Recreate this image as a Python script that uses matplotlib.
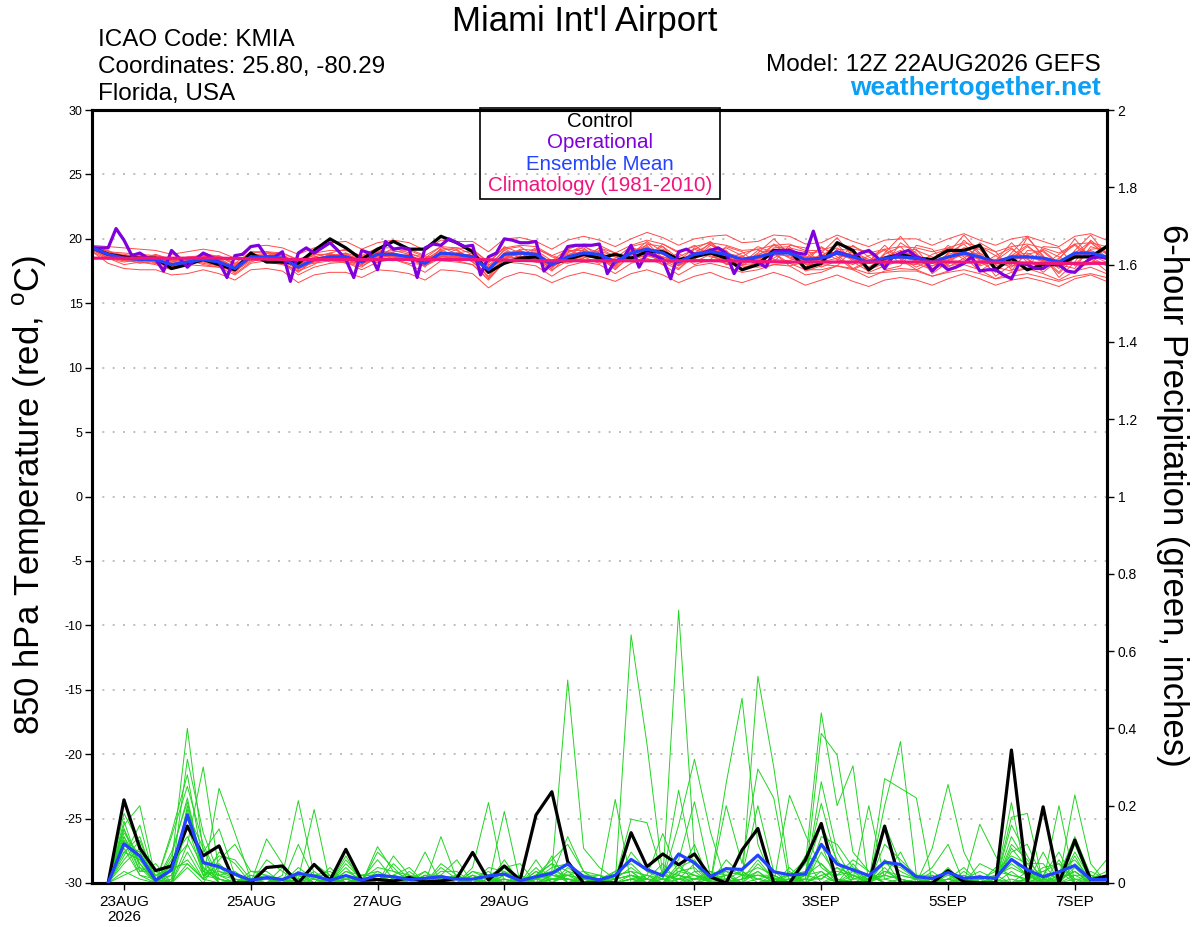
import numpy as np
import matplotlib
matplotlib.use('Agg')
import matplotlib.pyplot as plt
from matplotlib.patches import Rectangle

plt.rcParams['font.family'] = ['Liberation Sans', 'DejaVu Sans']
plt.rcParams['axes.unicode_minus'] = False
plt.rcParams['mathtext.fontset'] = 'custom'
plt.rcParams['mathtext.rm'] = 'Liberation Sans'

# Time axis: hours after 12Z 22AUG2026
temp_hours = np.arange(65) * 6
ops_hours = np.arange(129) * 3
precip_hours = np.arange(1, 65) * 6
clim_hours = np.arange(17) * 24

tick_hours = [12, 60, 108, 156, 228, 276, 324, 372]
tick_labels = ['23AUG\n2026', '25AUG', '27AUG', '29AUG', '1SEP', '3SEP', '5SEP', '7SEP']

# 850 hPa temperature (C)
control_temp = [19.3, 18.8, 18.6, 18.5, 18.5, 17.7, 18.0, 18.4, 18.0, 17.6, 18.9, 18.2, 18.2,
                18.1, 19.1, 20.0, 19.3, 18.4, 19.2, 19.8, 19.2, 19.2, 20.2, 19.7, 19.0, 17.4,
                18.1, 18.5, 18.6, 18.1, 18.4, 18.8, 18.5, 18.8, 18.5, 19.0, 19.0, 18.4, 18.6,
                18.9, 18.5, 17.6, 18.0, 19.1, 19.1, 17.7, 18.1, 19.7, 19.1, 17.6, 18.5, 18.8,
                18.5, 18.4, 19.1, 19.1, 19.5, 17.6, 18.5, 17.6, 18.0, 18.0, 18.6, 18.6, 19.4]

mean_temp = [19.3, 18.8, 18.5, 18.4, 18.4, 18.0, 18.2, 18.4, 18.2, 17.7, 18.6, 18.6, 18.5,
             17.8, 18.4, 18.6, 18.6, 18.2, 18.8, 18.8, 18.6, 18.1, 18.9, 18.8, 18.6, 17.6,
             18.8, 18.9, 18.8, 18.0, 18.6, 18.9, 18.8, 18.2, 18.9, 19.2, 18.9, 18.2, 18.8,
             19.0, 18.8, 18.4, 18.6, 18.9, 18.9, 18.4, 18.5, 18.9, 18.6, 18.2, 18.5, 18.6,
             18.5, 18.2, 18.6, 18.9, 18.6, 18.2, 18.6, 18.6, 18.5, 18.2, 18.9, 18.9, 18.6]

# operational run, 3-hourly
ops_temp = [19.3, 19.3, 19.3, 20.8, 19.9, 18.7, 18.9, 18.5, 18.4, 17.5, 19.1, 18.5, 17.8,
            18.4, 18.9, 18.6, 18.2, 17.0, 18.7, 18.8, 19.4, 19.5, 18.6, 18.6, 19.0, 16.7,
            18.9, 19.3, 18.9, 19.3, 19.7, 19.1, 18.4, 17.0, 19.1, 18.9, 17.6, 19.8, 19.2,
            19.3, 19.2, 17.0, 19.3, 19.6,
            19.5, 20.0, 19.7, 19.4, 19.5, 17.2, 18.6, 18.9, 20.0, 19.9, 19.7, 19.7, 19.8,
            17.5, 18.1, 18.4, 19.4, 19.5, 19.5, 19.5, 19.6, 17.3, 18.3, 18.5, 19.5, 17.8,
            18.9, 18.7, 18.4, 16.9, 19.0, 19.2, 18.8, 18.9, 19.1, 19.3, 18.9, 17.3, 18.4,
            18.4, 18.2, 17.8, 19.0,
            19.1, 19.1, 18.9, 18.8, 20.6, 18.6, 18.6, 19.0, 18.8, 18.6, 18.9, 19.1, 18.6,
            17.7, 18.6, 18.9, 19.1, 18.6, 18.4, 17.5, 18.1, 17.6, 17.8, 18.1, 18.6, 17.5,
            17.6, 17.6, 17.2, 16.9, 18.1, 18.0, 17.7, 17.7, 18.1, 18.0, 17.5, 17.4, 18.0,
            18.5, 18.6, 18.5]

# climatology, daily at 12Z
clim_temp = [18.5, 18.5, 18.5, 18.4, 18.4, 18.4, 18.4, 18.3, 18.3, 18.3, 18.3, 18.2, 18.2,
             18.2, 18.2, 18.1, 18.1]

ens_temp = [
    [19.2, 18.6, 18.3, 18.2, 18.5, 18.1, 18.0, 18.6, 18.4, 17.6, 18.4, 18.9, 18.8,
     17.9, 18.1, 18.3, 18.9, 18.5, 18.6, 19.3, 18.9, 18.4, 18.6, 19.2, 18.2, 17.1,
     18.5, 19.2, 19.1, 18.3, 18.1, 18.5, 19.3, 18.6, 18.4, 19.6, 19.4, 18.0, 18.4,
     19.5, 19.1, 18.0, 18.1, 19.3, 19.4, 18.0, 18.0, 19.2, 19.1, 17.6, 18.1, 19.0,
     19.2, 17.7, 18.0, 19.3, 19.2, 17.8, 17.5, 19.1, 19.0, 18.0, 17.7, 19.4, 19.0],
    [19.4, 19.0, 18.7, 18.5, 18.2, 17.8, 18.4, 18.3, 18.0, 17.9, 18.8, 18.4, 18.3,
     17.6, 18.6, 18.9, 18.4, 18.0, 19.1, 18.6, 18.3, 18.3, 19.2, 18.5, 18.9, 17.9,
     19.1, 18.6, 18.5, 17.7, 19.0, 19.3, 18.4, 17.9, 19.3, 19.0, 18.5, 18.6, 19.2,
     18.6, 18.4, 18.9, 19.2, 18.4, 18.3, 18.9, 19.0, 18.4, 18.0, 18.7, 19.1, 18.1,
     18.0, 18.8, 19.2, 18.4, 18.0, 18.7, 19.3, 18.2, 17.9, 18.8, 19.5, 18.3, 18.1],
    [19.1, 18.9, 18.6, 18.7, 18.6, 18.3, 18.5, 18.1, 17.9, 17.5, 18.3, 18.7, 18.9,
     18.3, 18.7, 18.2, 18.3, 17.9, 18.5, 19.0, 19.1, 18.6, 18.4, 18.3, 18.0, 16.9,
     18.2, 18.7, 19.3, 18.6, 18.2, 18.7, 19.1, 18.6, 18.3, 18.8, 19.4, 18.5, 18.2,
     18.8, 19.3, 18.7, 17.9, 18.5, 19.3, 19.0, 17.8, 18.3, 19.5, 18.6, 17.9, 18.3,
     19.1, 18.6, 17.8, 18.5, 19.4, 18.7, 17.9, 18.1, 19.2, 18.6, 18.0, 18.4, 19.3],
    [19.3, 18.7, 18.4, 18.1, 18.3, 17.9, 17.9, 18.5, 18.5, 17.8, 18.9, 18.5, 18.1,
     17.5, 18.3, 18.8, 18.7, 18.4, 18.2, 18.5, 18.7, 17.8, 19.3, 19.1, 18.4, 17.8,
     18.4, 18.9, 18.4, 17.5, 18.7, 19.4, 18.9, 17.8, 19.0, 19.5, 18.2, 17.6, 18.9,
     19.6, 18.6, 17.9, 18.7, 19.5, 18.8, 17.7, 18.6, 19.6, 18.2, 17.5, 18.8, 19.4,
     18.1, 17.6, 18.9, 19.6, 18.3, 17.4, 18.7, 19.5, 18.4, 17.3, 18.6, 19.7, 18.8],
    [19.5, 18.9, 18.8, 18.6, 18.1, 18.2, 18.6, 18.7, 18.3, 17.4, 18.5, 18.3, 18.6,
     18.0, 18.9, 18.5, 18.1, 18.3, 19.0, 18.4, 18.1, 18.0, 18.6, 18.9, 19.1, 18.2,
     19.3, 18.4, 18.2, 18.3, 19.2, 18.6, 18.1, 18.5, 19.4, 18.7, 18.3, 18.9, 19.5,
     18.7, 18.1, 18.6, 19.4, 18.9, 18.1, 18.5, 19.3, 18.8, 17.7, 18.3, 19.2, 18.5,
     17.8, 18.4, 19.3, 18.9, 17.9, 18.3, 19.2, 18.4, 17.7, 18.5, 19.6, 18.6, 17.9],
    [19.2, 18.5, 18.2, 18.4, 18.8, 18.4, 18.1, 18.2, 17.9, 17.6, 18.7, 18.9, 18.4,
     17.7, 18.2, 18.7, 18.9, 18.1, 18.4, 18.9, 18.6, 18.2, 18.8, 18.3, 18.5, 17.4,
     18.9, 19.1, 18.5, 17.9, 18.4, 18.8, 18.6, 18.2, 18.5, 19.1, 19.2, 18.4, 18.6,
     19.2, 18.9, 18.3, 18.3, 18.7, 19.1, 18.6, 18.2, 18.5, 19.0, 18.4, 18.0, 18.9,
     18.8, 18.1, 18.3, 18.8, 18.9, 18.2, 17.8, 18.8, 19.1, 18.1, 18.0, 19.2, 19.3],
    [19.3, 19.1, 18.5, 18.3, 18.4, 17.7, 18.3, 18.9, 18.6, 18.0, 18.6, 18.6, 18.7,
     18.1, 18.5, 18.4, 18.5, 18.6, 19.2, 18.7, 18.4, 18.5, 19.4, 18.8, 18.2, 17.3,
     18.6, 18.8, 19.0, 18.1, 18.8, 19.0, 18.6, 17.6, 18.8, 19.8, 19.0, 17.9, 18.5,
     19.3, 18.5, 18.2, 18.8, 19.2, 18.5, 18.1, 18.7, 19.3, 18.4, 17.8, 18.6, 19.1,
     18.5, 17.9, 18.5, 19.3, 18.7, 17.6, 18.4, 19.4, 18.6, 17.7, 18.9, 19.8, 18.5],
    [19.0, 18.4, 18.6, 18.5, 18.2, 18.0, 18.1, 18.4, 18.1, 17.3, 18.2, 18.6, 18.2,
     17.4, 18.4, 18.6, 18.2, 17.8, 18.7, 18.9, 18.5, 17.9, 18.7, 18.6, 18.7, 17.7,
     18.7, 18.9, 18.7, 17.8, 18.5, 19.0, 19.0, 18.3, 18.6, 18.9, 18.6, 18.3, 18.9,
     19.0, 18.6, 18.4, 18.5, 18.8, 19.2, 18.3, 18.4, 19.0, 18.7, 18.1, 18.3, 18.7,
     18.6, 18.3, 18.6, 18.7, 18.5, 18.4, 18.5, 18.7, 18.3, 18.2, 18.7, 18.8, 18.4],
    [19.4, 18.8, 18.4, 18.6, 18.5, 18.2, 18.4, 18.5, 18.3, 17.9, 18.7, 18.5, 18.6,
     17.9, 18.3, 18.5, 18.8, 18.3, 18.9, 19.1, 18.8, 18.1, 19.0, 18.7, 18.6, 17.6,
     18.9, 19.0, 18.9, 18.1, 18.6, 18.9, 18.8, 18.1, 19.1, 19.3, 18.9, 18.0, 18.7,
     19.1, 18.9, 18.6, 18.4, 19.0, 19.0, 18.2, 18.3, 18.9, 18.8, 18.4, 18.5, 18.8,
     18.3, 18.1, 18.8, 19.1, 18.5, 18.0, 18.7, 18.9, 18.3, 17.9, 18.8, 19.1, 18.6],
    [19.3, 18.7, 18.5, 18.3, 18.3, 17.9, 18.2, 18.3, 18.2, 17.7, 18.5, 18.7, 18.5,
     17.8, 18.5, 18.7, 18.6, 18.2, 18.8, 18.7, 18.6, 18.2, 18.8, 18.9, 18.7, 17.5,
     18.8, 18.8, 18.7, 18.0, 18.7, 18.9, 18.7, 18.3, 18.9, 19.2, 18.8, 18.3, 18.9,
     18.9, 18.7, 18.5, 18.7, 18.8, 18.7, 18.6, 18.6, 18.8, 18.5, 18.3, 18.6, 18.5,
     18.4, 18.3, 18.5, 18.8, 18.6, 18.3, 18.5, 18.5, 18.6, 18.3, 18.8, 18.7, 18.5],
    [19.0, 18.1, 17.7, 17.6, 17.6, 17.2, 17.3, 17.6, 17.3, 16.8, 17.6, 17.7, 17.5,
     16.6, 17.2, 17.4, 17.4, 17.0, 17.6, 17.5, 17.3, 16.8, 17.6, 17.5, 17.3, 16.2,
     17.0, 17.4, 17.2, 16.6, 17.1, 17.4, 17.1, 16.7, 17.3, 17.6, 17.2, 16.6, 17.1,
     17.4, 16.9, 16.6, 17.0, 17.4, 17.0, 16.4, 16.8, 17.2, 16.7, 16.3, 16.8, 17.0,
     16.8, 16.4, 16.9, 17.3, 16.9, 16.4, 16.8, 17.0, 16.7, 16.3, 16.9, 17.2, 16.7],
    [19.5, 19.4, 19.3, 19.2, 19.1, 18.8, 19.0, 19.2, 19.0, 18.5, 19.4, 19.5, 19.3,
     18.8, 19.3, 19.7, 19.8, 19.2, 19.7, 19.9, 19.7, 19.1, 19.9, 19.8, 19.8, 19.0,
     20.0, 20.1, 19.8, 19.2, 19.9, 20.2, 19.9, 19.4, 20.0, 20.5, 20.1, 19.5, 20.0,
     20.2, 20.3, 19.7, 19.8, 20.3, 20.2, 19.6, 19.7, 20.3, 19.8, 19.4, 19.9, 20.0,
     20.0, 19.5, 20.0, 20.4, 19.9, 19.5, 20.0, 20.2, 19.8, 19.4, 20.2, 20.4, 19.9],
    [19.2, 18.9, 18.7, 18.2, 18.0, 17.6, 18.0, 18.6, 18.7, 18.1, 18.4, 18.2, 18.0,
     17.5, 18.0, 18.9, 19.2, 18.6, 18.4, 18.3, 18.5, 18.4, 19.1, 19.3, 18.8, 18.0,
     18.3, 18.5, 19.2, 18.7, 18.3, 18.5, 19.3, 18.9, 18.2, 18.6, 19.6, 18.9, 18.0,
     18.4, 19.4, 19.0, 18.0, 18.2, 19.5, 19.3, 18.0, 17.9, 19.2, 19.0, 17.6, 17.9,
     19.5, 19.2, 17.9, 18.1, 19.7, 19.0, 17.6, 17.7, 19.4, 19.3, 17.9, 18.0, 19.4],
    [19.3, 18.6, 18.3, 18.6, 18.7, 18.4, 18.4, 18.0, 17.8, 17.5, 18.9, 19.0, 18.7,
     18.0, 18.6, 18.4, 18.3, 18.4, 19.0, 18.9, 18.4, 17.9, 18.5, 18.6, 18.4, 17.0,
     18.4, 19.1, 18.6, 17.6, 18.3, 19.2, 18.5, 17.7, 18.7, 19.4, 18.4, 17.7, 18.6,
     19.7, 18.8, 17.7, 18.2, 19.6, 19.0, 17.5, 17.9, 19.8, 18.9, 17.4, 17.9, 19.7,
     18.9, 17.3, 18.2, 19.9, 18.8, 17.1, 18.0, 20.1, 18.7, 17.0, 18.2, 19.9, 18.9],
    [19.5, 19.0, 18.6, 18.4, 18.6, 18.1, 18.3, 18.3, 17.9, 17.6, 18.5, 18.4, 18.6,
     18.1, 18.8, 18.8, 18.4, 18.0, 18.7, 18.6, 18.8, 18.6, 18.7, 18.4, 18.9, 18.1,
     19.4, 18.9, 18.2, 17.9, 19.1, 19.1, 18.3, 18.0, 19.2, 19.0, 18.0, 18.3, 19.3,
     18.9, 18.0, 18.1, 19.1, 18.9, 17.9, 18.2, 19.4, 18.6, 17.6, 18.2, 19.5, 18.4,
     17.6, 18.2, 19.5, 18.6, 17.5, 18.3, 19.7, 18.5, 17.4, 18.4, 20.0, 18.5, 17.5],
    [19.1, 18.5, 18.4, 18.3, 18.2, 18.0, 18.2, 18.3, 18.0, 17.8, 18.6, 18.4, 18.3,
     17.7, 18.2, 18.4, 18.5, 18.3, 18.6, 18.6, 18.5, 18.3, 18.6, 18.6, 18.5, 17.8,
     18.5, 18.6, 18.5, 18.2, 18.5, 18.6, 18.5, 18.1, 18.5, 18.7, 18.6, 18.2, 18.4,
     18.4, 18.1, 17.9, 17.8, 18.0, 18.1, 17.6, 17.6, 17.9, 17.7, 17.3, 17.4, 17.5,
     17.5, 17.1, 17.4, 17.6, 17.3, 16.9, 17.1, 17.3, 17.0, 16.7, 17.1, 17.3, 17.0],
    [19.3, 19.0, 18.9, 18.8, 18.7, 18.4, 18.5, 18.7, 18.6, 18.1, 19.0, 19.0, 18.9,
     18.4, 18.9, 19.1, 19.1, 18.7, 19.3, 19.3, 19.2, 18.7, 19.4, 19.3, 19.2, 18.2,
     19.3, 19.5, 19.4, 18.7, 19.2, 19.6, 19.5, 18.9, 19.5, 19.9, 19.6, 19.0, 19.4,
     19.7, 19.5, 19.1, 19.2, 19.5, 19.6, 19.1, 19.1, 19.5, 19.4, 18.9, 19.2, 19.4,
     19.3, 19.0, 19.3, 19.7, 19.4, 19.0, 19.4, 19.6, 19.3, 18.9, 19.6, 19.7, 19.4],
    [19.2, 18.5, 18.0, 18.2, 18.1, 17.8, 18.0, 17.9, 17.8, 17.2, 18.1, 18.3, 18.1,
     17.2, 17.8, 18.1, 18.2, 17.6, 18.2, 18.4, 18.0, 17.4, 18.3, 18.2, 18.0, 16.8,
     18.2, 18.1, 17.9, 17.1, 17.9, 18.2, 18.0, 17.3, 18.1, 18.5, 18.0, 17.2, 17.9,
     18.1, 17.8, 17.4, 17.6, 18.0, 17.9, 17.2, 17.4, 17.9, 17.6, 17.0, 17.5, 17.7,
     17.6, 17.1, 17.5, 18.0, 17.6, 16.9, 17.4, 17.7, 17.3, 16.8, 17.5, 17.8, 17.3],
    [19.4, 18.9, 18.5, 18.3, 18.6, 18.3, 18.0, 18.6, 18.4, 17.8, 18.6, 18.5, 18.8,
     18.0, 18.4, 18.6, 18.7, 18.5, 18.9, 18.7, 18.7, 18.3, 18.9, 18.6, 18.3, 17.7,
     19.2, 19.4, 18.6, 17.8, 18.9, 19.5, 18.6, 17.9, 19.4, 19.7, 18.5, 17.9, 19.2,
     19.8, 18.7, 18.0, 18.9, 20.0, 18.8, 17.8, 18.9, 20.1, 18.6, 17.6, 18.9, 20.2,
     18.7, 17.5, 18.9, 20.3, 18.9, 17.6, 18.9, 20.2, 18.6, 17.4, 19.1, 20.3, 18.8],
    [19.2, 18.8, 18.6, 18.4, 18.3, 17.9, 18.2, 18.4, 18.3, 17.7, 18.5, 18.6, 18.5,
     17.9, 18.4, 18.6, 18.5, 18.2, 18.7, 18.8, 18.6, 18.2, 18.8, 18.8, 18.7, 17.5,
     18.8, 18.9, 18.6, 17.9, 18.6, 18.9, 18.8, 18.0, 18.8, 19.1, 18.9, 18.0, 18.7,
     19.0, 18.7, 18.3, 18.5, 18.9, 18.6, 18.2, 18.5, 18.8, 18.4, 18.1, 18.4, 18.6,
     18.3, 17.9, 18.4, 18.8, 18.4, 17.9, 18.3, 18.7, 18.2, 17.8, 18.5, 18.7, 18.2],
]

# 6-hour precipitation (inches)
control_precip = [0.0, 0.215, 0.09, 0.032, 0.044, 0.147, 0.07, 0.096, 0.0, 0.0, 0.04, 0.044, 0.0,
                  0.048, 0.007, 0.087, 0.007, 0.009, 0.005, 0.014, 0.003, 0.005, 0.012, 0.079, 0.008, 0.044,
                  0.008, 0.176, 0.236, 0.055, 0.0, 0.0, 0.0, 0.13, 0.042, 0.075, 0.047, 0.075, 0.016,
                  0.0, 0.085, 0.141, 0.0, 0.0, 0.06, 0.154, 0.0, 0.0, 0.0, 0.147, 0.0, 0.0,
                  0.0, 0.032, 0.003, 0.0, 0.0, 0.344, 0.0, 0.197, 0.0, 0.111, 0.008, 0.018]

mean_precip = [0.0, 0.101, 0.07, 0.007, 0.034, 0.176, 0.053, 0.042, 0.023, 0.007, 0.014, 0.009, 0.025,
               0.018, 0.007, 0.019, 0.007, 0.02, 0.016, 0.009, 0.012, 0.016, 0.01, 0.01, 0.018, 0.023,
               0.006, 0.016, 0.025, 0.049, 0.016, 0.008, 0.02, 0.061, 0.035, 0.019, 0.075, 0.052, 0.016,
               0.037, 0.035, 0.072, 0.029, 0.021, 0.023, 0.1, 0.049, 0.034, 0.019, 0.054, 0.048, 0.016,
               0.012, 0.027, 0.012, 0.015, 0.012, 0.061, 0.034, 0.016, 0.029, 0.045, 0.009, 0.009]

# members at each 6-hour step (20 members per step)
ens_precip_steps = [
    [0, 0, 0, 0, 0, 0, 0, 0, 0, 0, 0, 0, 0, 0, 0, 0, 0, 0, 0, 0],
    [0.18, 0.15, 0.12, 0.10, 0.14, 0.08, 0.11, 0.16, 0.05, 0.09, 0.13, 0.07, 0.12, 0.03, 0.10, 0.06, 0.14, 0.11, 0.02, 0.08],
    [0.10, 0.20, 0.05, 0.08, 0.03, 0.12, 0.06, 0.04, 0.09, 0.02, 0.07, 0.15, 0.03, 0.01, 0.08, 0.11, 0.05, 0.02, 0.04, 0.06],
    [0, 0.01, 0, 0, 0.05, 0, 0.02, 0, 0, 0.01, 0, 0, 0.03, 0, 0, 0.01, 0, 0, 0.02, 0],
    [0.02, 0, 0.13, 0.05, 0, 0.08, 0, 0.01, 0.06, 0, 0.12, 0.03, 0, 0.07, 0, 0.02, 0.05, 0, 0.04, 0],
    [0.15, 0.05, 0.28, 0.40, 0.10, 0.21, 0.08, 0.32, 0.12, 0.19, 0.25, 0.06, 0.15, 0.22, 0.04, 0.18, 0.10, 0.20, 0.05, 0.17],
    [0.02, 0.01, 0.05, 0.08, 0.30, 0.03, 0.01, 0.13, 0.04, 0.02, 0.10, 0.01, 0.06, 0.03, 0.0, 0.09, 0.02, 0.04, 0.01, 0.03],
    [0.01, 0.0, 0.02, 0.14, 0.03, 0.01, 0.245, 0.02, 0.0, 0.05, 0.01, 0.08, 0.0, 0.02, 0.06, 0.0, 0.03, 0.01, 0.04, 0.07],
    [0, 0.01, 0, 0.02, 0.01, 0, 0.13, 0.03, 0, 0.01, 0.0, 0.05, 0, 0.01, 0.1, 0, 0.02, 0, 0.01, 0.06],
    [0, 0, 0.01, 0, 0, 0.03, 0.01, 0, 0, 0, 0.02, 0, 0.01, 0, 0.03, 0, 0, 0.02, 0, 0.01],
    [0, 0.114, 0, 0.01, 0, 0.02, 0, 0, 0.06, 0, 0.01, 0, 0.02, 0, 0.03, 0, 0, 0.01, 0, 0.01],
    [0, 0.05, 0, 0, 0.02, 0.01, 0, 0, 0.03, 0, 0, 0.01, 0, 0.04, 0, 0.01, 0, 0, 0.01, 0],
    [0.01, 0, 0.02, 0, 0.213, 0.0, 0.01, 0.1, 0, 0.03, 0, 0, 0.04, 0.01, 0, 0.02, 0, 0.03, 0, 0.02],
    [0, 0.01, 0, 0.03, 0.02, 0, 0.19, 0.01, 0, 0.0, 0.05, 0, 0.01, 0.02, 0, 0.01, 0, 0.0, 0.02, 0],
    [0, 0, 0.01, 0, 0, 0.04, 0, 0.01, 0, 0, 0.02, 0, 0, 0.03, 0, 0, 0.01, 0, 0.02, 0],
    [0.02, 0.07, 0, 0.01, 0.03, 0, 0.06, 0, 0.02, 0.01, 0, 0.04, 0.03, 0, 0.05, 0.01, 0, 0.02, 0.01, 0],
    [0.01, 0, 0.02, 0, 0.01, 0, 0.01, 0.02, 0, 0, 0.01, 0, 0.02, 0, 0.01, 0, 0.01, 0, 0.02, 0],
    [0, 0.094, 0.02, 0, 0.06, 0.01, 0, 0.03, 0.08, 0, 0.01, 0, 0.02, 0.03, 0, 0.01, 0.04, 0, 0, 0.0],
    [0.01, 0.03, 0, 0.07, 0.01, 0.02, 0, 0.01, 0.04, 0, 0.02, 0.05, 0, 0.01, 0.02, 0, 0.03, 0, 0.01, 0],
    [0, 0.01, 0, 0.02, 0, 0.04, 0.01, 0, 0, 0.02, 0, 0.01, 0.03, 0, 0.01, 0, 0.02, 0, 0.01, 0],
    [0, 0, 0.03, 0, 0.08, 0, 0.01, 0.02, 0, 0.01, 0, 0.03, 0, 0.01, 0, 0.02, 0, 0.01, 0, 0.02],
    [0.01, 0.12, 0, 0.02, 0, 0.04, 0, 0.01, 0.03, 0, 0.02, 0, 0.05, 0, 0.01, 0.02, 0, 0, 0.01, 0],
    [0.02, 0.01, 0, 0.06, 0, 0.01, 0.02, 0, 0.03, 0, 0, 0.01, 0.02, 0, 0, 0.01, 0, 0.02, 0, 0],
    [0, 0.01, 0.04, 0, 0.02, 0, 0, 0.03, 0, 0.01, 0.02, 0, 0, 0.03, 0, 0.01, 0.02, 0, 0, 0.01],
    [0, 0, 0.208, 0, 0.01, 0.02, 0, 0.01, 0, 0.03, 0, 0.01, 0, 0.02, 0.04, 0, 0, 0.01, 0, 0.0],
    [0.03, 0.01, 0, 0.185, 0.0, 0.04, 0.01, 0, 0.02, 0, 0.06, 0, 0.01, 0, 0.03, 0.02, 0, 0.01, 0, 0.04],
    [0, 0, 0.01, 0, 0, 0.05, 0, 0, 0.01, 0, 0, 0.02, 0, 0, 0.01, 0, 0.02, 0, 0, 0],
    [0.01, 0.02, 0, 0.01, 0.06, 0, 0.02, 0.03, 0, 0.01, 0.04, 0, 0.02, 0, 0.01, 0.03, 0, 0.02, 0.01, 0.01],
    [0.03, 0.05, 0.01, 0.02, 0, 0.07, 0.03, 0.01, 0.02, 0.04, 0, 0.02, 0.06, 0.01, 0.03, 0, 0.02, 0.05, 0, 0.01],
    [0.02, 0.03, 0.01, 0.12, 0.04, 0.0, 0.525, 0.02, 0.01, 0.05, 0.0, 0.02, 0.1, 0.01, 0.0, 0.03, 0.01, 0.0, 0.02, 0.01],
    [0.01, 0, 0, 0.03, 0.01, 0.02, 0.09, 0, 0.01, 0.02, 0, 0.01, 0.03, 0, 0.01, 0.02, 0, 0.01, 0.03, 0],
    [0, 0.01, 0, 0.02, 0, 0.01, 0.04, 0, 0, 0.01, 0, 0.02, 0, 0.01, 0, 0.02, 0, 0.01, 0, 0.01],
    [0, 0.01, 0.02, 0, 0.03, 0, 0.01, 0.216, 0, 0.02, 0, 0.01, 0, 0.03, 0.01, 0, 0.02, 0, 0.01, 0],
    [0.02, 0.165, 0.03, 0.01, 0.05, 0.08, 0.02, 0.0, 0.642, 0.03, 0.0, 0.04, 0.01, 0.06, 0.02, 0.01, 0.03, 0.0, 0.02, 0.01],
    [0.01, 0.156, 0.0, 0.02, 0.01, 0.03, 0.0, 0.01, 0.36, 0.0, 0.02, 0.01, 0.0, 0.03, 0.01, 0.0, 0.02, 0.01, 0.0, 0.01],
    [0, 0.02, 0.01, 0.128, 0, 0.01, 0.03, 0, 0.02, 0.01, 0, 0.05, 0, 0.02, 0, 0.03, 0.01, 0, 0.02, 0.01],
    [0.03, 0.06, 0.24, 0.02, 0.01, 0.15, 0.0, 0.04, 0.01, 0.706, 0.02, 0.0, 0.05, 0.01, 0.03, 0.02, 0.0, 0.04, 0.01, 0.02],
    [0.02, 0.21, 0.03, 0.0, 0.05, 0.32, 0.01, 0.02, 0.0, 0.08, 0.01, 0.03, 0.0, 0.02, 0.04, 0.01, 0.0, 0.06, 0.01, 0.1],
    [0.01, 0.02, 0, 0.01, 0, 0.133, 0.01, 0, 0.02, 0, 0.01, 0.03, 0, 0.01, 0, 0.02, 0.01, 0, 0.03, 0],
    [0.0, 0.03, 0.01, 0.02, 0.258, 0.0, 0.02, 0.2, 0.0, 0.01, 0.03, 0.0, 0.02, 0.01, 0.0, 0.04, 0.01, 0.0, 0.02, 0.06],
    [0.01, 0.0, 0.03, 0.0, 0.478, 0.02, 0.0, 0.05, 0.01, 0.0, 0.02, 0.0, 0.03, 0.0, 0.01, 0.02, 0.0, 0.01, 0.0, 0.02],
    [0.02, 0.03, 0.0, 0.05, 0.1, 0.01, 0.0, 0.295, 0.02, 0.0, 0.04, 0.535, 0.01, 0.0, 0.03, 0.02, 0.0, 0.06, 0.01, 0.2],
    [0.01, 0.0, 0.02, 0.01, 0.0, 0.02, 0.0, 0.22, 0.01, 0.0, 0.02, 0.3, 0.0, 0.01, 0.0, 0.02, 0.0, 0.01, 0.0, 0.03],
    [0.0, 0.01, 0.0, 0.02, 0.01, 0.0, 0.03, 0.0, 0.01, 0.227, 0.0, 0.02, 0.01, 0.0, 0.02, 0.0, 0.01, 0.0, 0.04, 0.0],
    [0.02, 0.0, 0.03, 0.0, 0.01, 0.05, 0.0, 0.02, 0.01, 0.125, 0.0, 0.03, 0.0, 0.01, 0.06, 0.0, 0.02, 0.01, 0.0, 0.07],
    [0.05, 0.02, 0.206, 0.1, 0.0, 0.44, 0.03, 0.01, 0.387, 0.04, 0.0, 0.15, 0.02, 0.262, 0.0, 0.08, 0.03, 0.01, 0.12, 0.05],
    [0.01, 0.03, 0.05, 0.0, 0.02, 0.2, 0.0, 0.04, 0.331, 0.01, 0.0, 0.06, 0.0, 0.08, 0.01, 0.02, 0.0, 0.04, 0.1, 0.0],
    [0.0, 0.02, 0.01, 0.0, 0.03, 0.303, 0.01, 0.0, 0.08, 0.0, 0.02, 0.0, 0.03, 0.01, 0.0, 0.06, 0.0, 0.02, 0.04, 0.05],
    [0.01, 0.0, 0.02, 0.0, 0.01, 0.0, 0.2, 0.0, 0.03, 0.01, 0.0, 0.02, 0.0, 0.01, 0.0, 0.03, 0.0, 0.01, 0.02, 0.0],
    [0.03, 0.06, 0.0, 0.27, 0.02, 0.04, 0.01, 0.2, 0.0, 0.05, 0.02, 0.0, 0.1, 0.01, 0.03, 0.0, 0.06, 0.02, 0.0, 0.15],
    [0.01, 0.03, 0.0, 0.245, 0.01, 0.0, 0.02, 0.366, 0.0, 0.04, 0.01, 0.0, 0.06, 0.0, 0.02, 0.01, 0.0, 0.08, 0.0, 0.05],
    [0.0, 0.01, 0.0, 0.22, 0.0, 0.0, 0.01, 0.02, 0.0, 0.01, 0.0, 0.0, 0.02, 0.0, 0.01, 0.0, 0.01, 0.0, 0.0, 0.01],
    [0.01, 0.0, 0.02, 0.0, 0.0, 0.01, 0.0, 0.0, 0.09, 0.0, 0.01, 0.0, 0.02, 0.0, 0.01, 0.0, 0.0, 0.03, 0.0, 0.04],
    [0.0, 0.02, 0.0, 0.01, 0.0, 0.0, 0.03, 0.0, 0.255, 0.0, 0.02, 0.01, 0.0, 0.04, 0.0, 0.01, 0.03, 0.0, 0.01, 0.1],
    [0.01, 0.0, 0.0, 0.02, 0.0, 0.01, 0.0, 0.0, 0.08, 0.0, 0.01, 0.0, 0.03, 0.0, 0.02, 0.0, 0.01, 0.0, 0.04, 0.0],
    [0.0, 0.01, 0.0, 0.0, 0.02, 0.0, 0.0, 0.01, 0.0, 0.0, 0.03, 0.0, 0.0, 0.152, 0.0, 0.01, 0.0, 0.02, 0.0, 0.05],
    [0.01, 0.0, 0.02, 0.0, 0.0, 0.01, 0.0, 0.03, 0.0, 0.0, 0.01, 0.0, 0.0, 0.07, 0.0, 0.02, 0.0, 0.0, 0.04, 0.03],
    [0.05, 0.1, 0.0, 0.17, 0.03, 0.0, 0.208, 0.02, 0.08, 0.0, 0.06, 0.12, 0.01, 0.0, 0.15, 0.04, 0.0, 0.09, 0.02, 0.07],
    [0.02, 0.06, 0.01, 0.18, 0.0, 0.03, 0.0, 0.01, 0.1, 0.0, 0.02, 0.05, 0.0, 0.01, 0.07, 0.02, 0.0, 0.04, 0.01, 0.05],
    [0.0, 0.01, 0.03, 0.0, 0.02, 0.0, 0.08, 0.0, 0.01, 0.02, 0.0, 0.05, 0.0, 0.02, 0.0, 0.03, 0.01, 0.0, 0.04, 0.0],
    [0.01, 0.0, 0.05, 0.02, 0.0, 0.03, 0.0, 0.2, 0.01, 0.0, 0.06, 0.0, 0.02, 0.08, 0.0, 0.01, 0.03, 0.0, 0.05, 0.01],
    [0.03, 0.08, 0.0, 0.12, 0.02, 0.06, 0.01, 0.0, 0.228, 0.04, 0.0, 0.1, 0.02, 0.0, 0.05, 0.03, 0.0, 0.07, 0.01, 0.03],
    [0.0, 0.01, 0.0, 0.02, 0.0, 0.01, 0.0, 0.0, 0.05, 0.0, 0.01, 0.0, 0.02, 0.0, 0.01, 0.0, 0.03, 0.0, 0.01, 0.0],
    [0.01, 0.0, 0.02, 0.0, 0.0, 0.06, 0.0, 0.01, 0.0, 0.0, 0.02, 0.0, 0.01, 0.0, 0.03, 0.0, 0.01, 0.0, 0.0, 0.02],
]
ens_precip = np.array(ens_precip_steps).T

fig = plt.figure(figsize=(12, 9.27), dpi=100)
ax = fig.add_axes([0.0769, 0.0475, 0.8452, 0.8338])
ax2 = ax.twinx()

# temperature on the left axis
for member in ens_temp:
    ax.plot(temp_hours, member, color='#ff4a4a', lw=0.7, zorder=2)
ax.plot(temp_hours, control_temp, color='black', lw=2.3, zorder=3)
ax.plot(ops_hours, ops_temp, color='#7f00dc', lw=2.3, zorder=4)
ax.plot(temp_hours, mean_temp, color='#2244ff', lw=2.3, zorder=5)
ax.plot(clim_hours, clim_temp, color='#f0147c', lw=2.3, zorder=6)

# precipitation on the right axis
for member in ens_precip:
    ax2.plot(precip_hours, member, color='#22d422', lw=0.7, zorder=2)
ax2.plot(precip_hours, control_precip, color='black', lw=2.3, zorder=3)
ax2.plot(precip_hours, mean_precip, color='#2244ff', lw=2.3, zorder=4)

ax.set_xlim(0, 384)
ax.set_ylim(-30, 30)
ax2.set_ylim(0, 2)

ax.set_yticks(range(-30, 31, 5))
ax.yaxis.grid(True, color='#b4b4b4', lw=1.2, ls=(0, (1.2, 5)))
ax.set_axisbelow(True)
ax.tick_params(axis='y', direction='out', length=5, width=1, labelsize=9, pad=2)

ax2.set_yticks(np.arange(0, 2.01, 0.2))
ax2.set_yticklabels(['%g' % round(v, 1) for v in np.arange(0, 2.01, 0.2)])
ax2.tick_params(axis='y', direction='out', length=5, width=1, labelsize=10, pad=3)

ax.set_xticks(tick_hours)
ax.set_xticklabels(tick_labels, fontsize=11, linespacing=1.05)
ax.tick_params(axis='x', direction='out', length=5, width=1, pad=4)

for a in (ax, ax2):
    for s in a.spines.values():
        s.set_linewidth(2.2)

# header texts
fig.text(0.4875, 1 - 31 / 927, "Miami Int'l Airport", fontsize=25, ha='center', va='baseline')
fig.text(98 / 1200, 1 - 46 / 927, 'ICAO Code: KMIA', fontsize=17.5, va='baseline')
fig.text(98 / 1200, 1 - 73 / 927, 'Coordinates: 25.80, -80.29', fontsize=17.5, va='baseline')
fig.text(98 / 1200, 1 - 100 / 927, 'Florida, USA', fontsize=17.5, va='baseline')
fig.text(1101 / 1200, 1 - 71 / 927, 'Model: 12Z 22AUG2026 GEFS', fontsize=17.5, ha='right', va='baseline')
fig.text(1101 / 1200, 1 - 95 / 927, 'weathertogether.net', fontsize=19, fontweight='bold',
         color='#0ca0f5', ha='right', va='baseline')

# legend box
fig.add_artist(Rectangle((480 / 1200, 1 - 199 / 927), 240 / 1200, 91 / 927,
                         transform=fig.transFigure, fill=False, ec='black', lw=1.2, zorder=10))
legend_items = [('Control', 'black', 127), ('Operational', '#7f00dc', 148.5),
                ('Ensemble Mean', '#2244ff', 170), ('Climatology (1981-2010)', '#f0147c', 191)]
for label, colour, ypix in legend_items:
    fig.text(0.5, 1 - ypix / 927, label, color=colour, fontsize=14.8, ha='center', va='baseline')

# axis titles
fig.text(30 / 1200, 0.466, '850 hPa Temperature (red, $^{\\mathrm{o}}$C)', fontsize=25,
         rotation=90, ha='center', va='center')
fig.text(1172 / 1200, 0.466, '6-hour Precipitation (green, inches)', fontsize=25,
         rotation=-90, ha='center', va='center')

fig.savefig('out.png', dpi=100)
